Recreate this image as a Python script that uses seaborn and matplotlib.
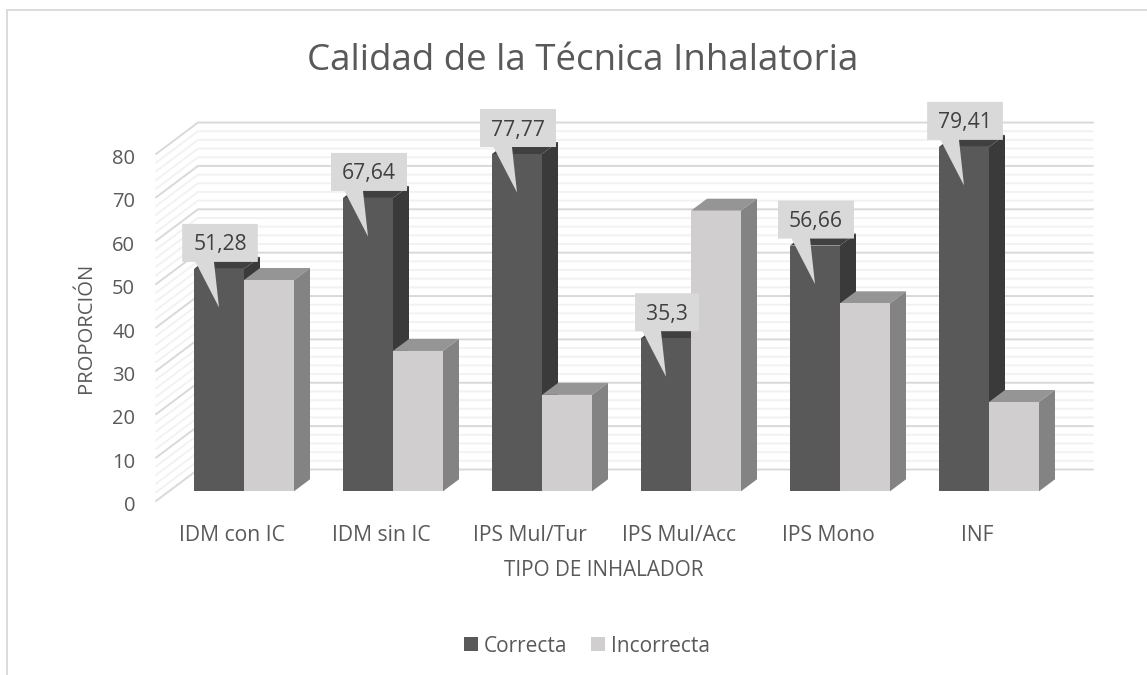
import matplotlib
matplotlib.use("Agg")
import matplotlib.pyplot as plt
import pandas as pd
import seaborn as sns
from matplotlib.patches import Polygon
from matplotlib.lines import Line2D

# ---- data ----
categories = ["IDM con IC", "IDM sin IC", "IPS Mul/Tur", "IPS Mul/Acc", "IPS Mono", "INF"]
correcta = [51.28, 67.64, 77.77, 35.3, 56.66, 79.41]
incorrecta = [48.72, 32.36, 22.23, 64.7, 43.34, 20.59]
correcta_labels = ["51,28", "67,64", "77,77", "35,3", "56,66", "79,41"]
axis_ticks = [0, 10, 20, 30, 40, 50, 60, 70, 80]
minor_ticks = [v for v in range(0, 81, 2)]
series_names = ["Correcta", "Incorrecta"]

W, H = 1147, 675
PX_X = 149.0          # px per category
PX_Y = 4.337          # px per unit
X0_PX, Y0_PX = 244.0, 491.3   # pixel of x=0, y=0
L_PX, R_PX, T_PX, B_PX = 156.0, 1093.0, 122.0, 506.0

sns.set_theme(style="white")
plt.rcParams["font.family"] = ["Open Sans", "DejaVu Sans"]
TXT = "#595959"

fig = plt.figure(figsize=(W / 100, H / 100), dpi=100, facecolor="white")
ax = fig.add_axes([L_PX / W, 1 - B_PX / H, (R_PX - L_PX) / W, (B_PX - T_PX) / H])

df = pd.DataFrame({
    "cat": categories * 2,
    "val": correcta + incorrecta,
    "serie": [series_names[0]] * len(categories) + [series_names[1]] * len(categories),
})
palette = {series_names[0]: "#595959", series_names[1]: "#d0cece"}
sns.barplot(data=df, x="cat", y="val", hue="serie", palette=palette, width=100 / 149,
            dodge=True, saturation=1, linewidth=0, ax=ax, zorder=3)

for s in ax.spines.values():
    s.set_visible(False)
ax.patch.set_alpha(0)

# depth helpers: pixels to data units
ux = lambda p: p / PX_X
uy = lambda p: p / PX_Y
BAR_DX, BAR_DY = ux(16), uy(12)
WALL_Y = uy(491.3 - 469.5)
FRONT_Y = uy(501 - 491.3)
WALL_X0 = (198 - X0_PX) / PX_X
WALL_X1 = (156 - X0_PX) / PX_X
WALL_XR = (R_PX - X0_PX) / PX_X

# walls
for v in minor_ticks:
    major = v % 10 == 0
    col = "#d9d9d9" if major else "#f2f2f2"
    zo = 1.2 if major else 1.1
    ax.plot([WALL_X1, WALL_X0, WALL_XR], [v - FRONT_Y, v + WALL_Y, v + WALL_Y],
            color=col, lw=1.4, zorder=zo, clip_on=False, solid_joinstyle="miter")

# ticks and labels
n = len(categories)
LABEL_SHIFT = uy(2.5)
ax.set_yticks([v - FRONT_Y - LABEL_SHIFT for v in axis_ticks])
ax.set_yticklabels([str(v) for v in axis_ticks], fontsize=14.5, color=TXT)
ax.tick_params(axis="y", length=0, pad=15)
ax.tick_params(axis="x", length=0, pad=13.5)
ax.set_xticks([i - ux(12) for i in range(n)])
ax.set_xticklabels(categories, fontsize=15.2, color=TXT)
ax.set_xlabel("")
ax.set_ylabel("")

ax.set_xlim((L_PX - X0_PX) / PX_X, (R_PX - X0_PX) / PX_X)
ax.set_ylim((Y0_PX - B_PX) / PX_Y, (Y0_PX - T_PX) / PX_Y)

# 3D faces
bars = [p for c in ax.containers for p in c]
for i, p in enumerate(bars):
    group = 0 if i < n else 1
    zo = 3 + group
    x0, w, h = p.get_x(), p.get_width(), p.get_height()
    top_c, side_c = (("#404040", "#3a3a3a") if group == 0 else ("#969595", "#848383"))
    p.set_zorder(zo + 0.2)
    ax.add_patch(Polygon([(x0, h), (x0 + w, h), (x0 + w + BAR_DX, h + BAR_DY), (x0 + BAR_DX, h + BAR_DY)],
                         closed=True, fc=top_c, ec="none", zorder=zo, clip_on=False))
    ax.add_patch(Polygon([(x0 + w, 0), (x0 + w + BAR_DX, BAR_DY), (x0 + w + BAR_DX, h + BAR_DY), (x0 + w, h)],
                         closed=True, fc=side_c, ec="none", zorder=zo, clip_on=False))

# callouts on the first series
for p, lab in zip(bars[:n], correcta_labels):
    x0, h = p.get_x(), p.get_height()
    cx = x0 + ux(26)
    cy = h + uy(26.5)
    t = ax.text(cx, cy, lab, ha="center", va="center_baseline", fontsize=15.2, color="#404040",
                zorder=8, clip_on=False)
    fig.canvas.draw()
    tw = t.get_window_extent().width
    hw = ux(tw / 2 + 11)
    bot, top = h + uy(7), h + uy(45)
    ax.add_patch(Polygon([(cx - hw, bot), (x0 + ux(1.5), bot), (x0 + ux(25), h - uy(38.5)), (x0 + ux(20), bot),
                          (cx + hw, bot), (cx + hw, top), (cx - hw, top)],
                         closed=True, fc="#d9d9d9", ec="none", zorder=7, clip_on=False))

fig.text(603.5 / W, 1 - 571 / H, "TIPO DE INHALADOR", ha="center", va="center", fontsize=14.9, color=TXT)
fig.text(86 / W, 1 - 328 / H, "PROPORCIÓN", ha="center", va="center", rotation=90, fontsize=14.6, color=TXT)
fig.text(582.5 / W, 1 - 61 / H, "Calidad de la Técnica Inhalatoria", ha="center", va="center",
         fontsize=26.5, color=TXT)

sns.move_legend(ax, "center", bbox_to_anchor=(587 / W, 1 - 646 / H), bbox_transform=fig.transFigure,
                ncol=2, title=None, frameon=False, fontsize=15, handlelength=0.67, handleheight=0.67,
                handletextpad=0.29, columnspacing=1.15, labelcolor=TXT, borderpad=0)

# chart frame
fig.add_artist(Line2D([7 / W, 7 / W], [0, 1 - 10 / H], color="#d9d9d9", lw=1.3))
fig.add_artist(Line2D([7 / W, 1], [1 - 10 / H, 1 - 10 / H], color="#d9d9d9", lw=1.3))

fig.savefig("out.png", dpi=100, facecolor="white")
